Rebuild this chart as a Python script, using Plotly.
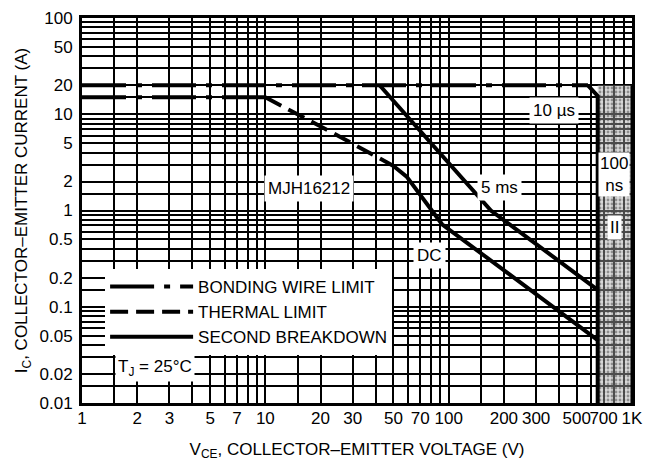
import plotly.graph_objects as go
import math

# ---------------- data ----------------
v_bond_pulse = [1, 575]
i_bond_pulse = [20, 20]
v_bond_dc = [1, 10]
i_bond_dc = [15, 15]
v_thermal = [10, 23, 50]
i_thermal = [15, 6.5, 2.9]
v_dc = [50, 59, 92, 650]
i_dc = [2.9, 2.25, 0.72, 0.045]
v_5ms = [42, 170, 650]
i_5ms = [20, 1.0, 0.15]
v_10us = [575, 650, 650]
i_10us = [20, 15.5, 0.01]
v_region = [650, 1000, 1000, 650, 650]
i_region = [0.01, 0.01, 20, 20, 0.01]
v_100ns = [1000, 1000]
i_100ns = [0.01, 20]

x_tickvals = [1, 2, 3, 5, 7, 10, 20, 30, 50, 70, 100, 200, 300, 500, 700, 1000]
x_ticktext = ["1", "2", "3", "5", "7", "10", "20", "30", "50", "70", "100", "200", "300", "500", "700", "1K"]
y_tickvals = [0.01, 0.02, 0.05, 0.1, 0.2, 0.5, 1, 2, 5, 10, 20, 50, 100]
y_ticktext = ["0.01", "0.02", "0.05", "0.1", "0.2", "0.5", "1", "2", "5", "10", "20", "50", "100"]
x_minor_mult = [1.5, 4, 6, 8, 9]
y_minor_mult = [1.5, 3, 4, 6, 7, 8, 9]

x_minor = [m * 10 ** d for d in range(0, 3) for m in x_minor_mult]
y_minor = [m * 10 ** d for d in range(-2, 2) for m in y_minor_mult]

FONT = "Liberation Sans Narrow, Arial Narrow, Liberation Sans, Arial, sans-serif"
LW = 4

fig = go.Figure()

# shaded region
fig.add_trace(go.Scatter(
    x=v_region, y=i_region, mode="lines", fill="toself",
    line=dict(width=0, color="rgba(0,0,0,0)"),
    fillcolor="rgba(0,0,0,0)",
    fillpattern=dict(shape=".", fgcolor="#444444", bgcolor="rgba(170,170,170,0.45)", size=4, solidity=0.4),
    showlegend=False, hoverinfo="skip"))

fig.add_trace(go.Scatter(x=v_100ns, y=i_100ns, mode="lines",
                         line=dict(color="black", width=3), showlegend=False))

# bonding wire limits
fig.add_trace(go.Scatter(x=v_bond_pulse, y=i_bond_pulse, mode="lines", name="BONDING WIRE LIMIT",
                         line=dict(color="black", width=LW, dash="44px,10px,6px,10px")))
fig.add_trace(go.Scatter(x=v_bond_dc, y=i_bond_dc, mode="lines", showlegend=False,
                         line=dict(color="black", width=LW, dash="44px,10px,6px,10px")))
# thermal limit
fig.add_trace(go.Scatter(x=v_thermal, y=i_thermal, mode="lines", name="THERMAL LIMIT",
                         line=dict(color="black", width=LW, dash="18px,8px")))
# second breakdown
fig.add_trace(go.Scatter(x=v_dc, y=i_dc, mode="lines", name="SECOND BREAKDOWN",
                         line=dict(color="black", width=LW)))
fig.add_trace(go.Scatter(x=v_5ms, y=i_5ms, mode="lines", showlegend=False,
                         line=dict(color="black", width=LW)))
fig.add_trace(go.Scatter(x=v_10us, y=i_10us, mode="lines", showlegend=False,
                         line=dict(color="black", width=LW)))

def ann(text, v, i, **kw):
    fig.add_annotation(x=math.log10(v), y=math.log10(i), text=text, showarrow=False,
                       bgcolor="white", font=dict(family=FONT, size=17, color="black"), **kw)

ann("10 µs", 375, 11, borderpad=3)
ann("5 ms", 190, 1.75, borderpad=3)
ann("MJH16212", 17.2, 1.7, borderpad=3)
ann("DC", 79, 0.34, borderpad=3)
ann("100<br>ns", 800, 2.34, borderpad=1)
ann("II", 800, 0.66, borderpad=2)
ann("T<sub>J</sub> = 25°C", 2.5, 0.023, borderpad=2)

# the page body has an 8px default margin, so the figure is 8px smaller than the window
fig.update_layout(
    width=643, height=454,
    margin=dict(l=74, r=19, t=10, b=59),
    plot_bgcolor="white", paper_bgcolor="white",
    font=dict(family=FONT, size=16, color="black"),
    showlegend=True,
    legend=dict(x=0.042, y=0.348, xanchor="left", yanchor="top", bgcolor="white",
                font=dict(family=FONT, size=17, color="black"), itemwidth=83,
                tracegroupgap=0),
)

fig.update_xaxes(
    type="log", range=[0, 3], automargin=False, tickangle=0,
    tickvals=x_tickvals, ticktext=x_ticktext, ticks="",
    ticklabelstandoff=-2,
    showgrid=True, gridcolor="black", gridwidth=1.6,
    minor=dict(tickvals=x_minor, showgrid=True, gridcolor="black", gridwidth=1.6, ticks=""),
    showline=True, linecolor="black", linewidth=3, mirror=True,
    tickfont=dict(family=FONT, size=17),
    title=dict(text="V<sub>CE</sub>, COLLECTOR–EMITTER VOLTAGE (V)", font=dict(family=FONT, size=17), standoff=16),
    zeroline=False,
)
fig.update_yaxes(
    type="log", range=[-2, 2], automargin=False,
    tickvals=y_tickvals, ticktext=y_ticktext, ticks="",
    ticklabelstandoff=3,
    showgrid=True, gridcolor="black", gridwidth=1.6,
    minor=dict(tickvals=y_minor, showgrid=True, gridcolor="black", gridwidth=1.6, ticks=""),
    showline=True, linecolor="black", linewidth=3, mirror=True,
    tickfont=dict(family=FONT, size=17),
    title=dict(text="I<sub>C</sub>, COLLECTOR–EMITTER CURRENT (A)", font=dict(family=FONT, size=17), standoff=8),
    zeroline=False,
)

fig.write_html("out.html")
